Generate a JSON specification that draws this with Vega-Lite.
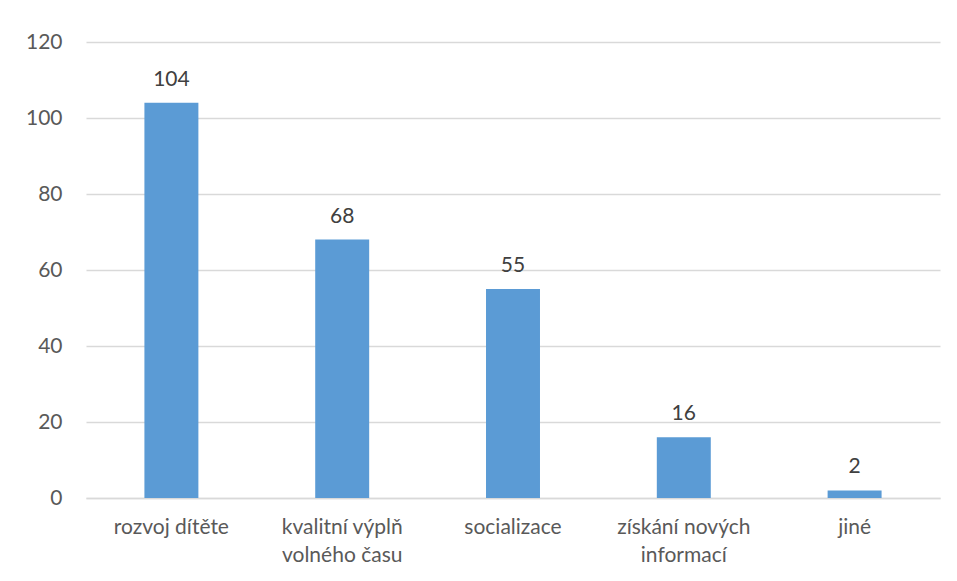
{
  "$schema": "https://vega.github.io/schema/vega-lite/v6.json",
  "autosize": {"type": "none"},
  "width": 854,
  "height": 456,
  "padding": {"left": 86, "top": 42, "right": 17, "bottom": 83},
  "background": "white",
  "config": {
    "view": {"stroke": null},
    "font": "Lato"
  },
  "data": {
    "values": [
      {"kategorie": "rozvoj dítěte", "pocet": 104},
      {"kategorie": "kvalitní výplň|volného času", "pocet": 68},
      {"kategorie": "socializace", "pocet": 55},
      {"kategorie": "získání nových|informací", "pocet": 16},
      {"kategorie": "jiné", "pocet": 2}
    ]
  },
  "encoding": {
    "x": {
      "field": "kategorie",
      "type": "nominal",
      "sort": null,
      "scale": {"paddingInner": 0.684, "paddingOuter": 0.342},
      "axis": {
        "title": null,
        "labelAngle": 0,
        "labelExpr": "split(datum.value, '|')",
        "labelFont": "Lato",
        "labelFontSize": 21,
        "labelColor": "#595959",
        "labelPadding": 18,
        "labelLineHeight": 28,
        "ticks": false,
        "domainColor": "#D9D9D9",
        "domainWidth": 1.5
      }
    },
    "y": {
      "field": "pocet",
      "type": "quantitative",
      "scale": {"domain": [0, 120]},
      "axis": {
        "title": null,
        "values": [0, 20, 40, 60, 80, 100, 120],
        "labelFont": "Lato",
        "labelFontSize": 21,
        "labelColor": "#595959",
        "labelPadding": 24,
        "ticks": false,
        "domain": false,
        "gridColor": "#D9D9D9",
        "gridWidth": 1.5
      }
    }
  },
  "layer": [
    {"mark": {"type": "bar", "color": "#5B9BD5"}},
    {
      "mark": {"type": "text", "baseline": "bottom", "dy": -13, "fontSize": 21, "color": "#404040", "font": "Lato"},
      "encoding": {"text": {"field": "pocet", "type": "quantitative"}}
    }
  ]
}
